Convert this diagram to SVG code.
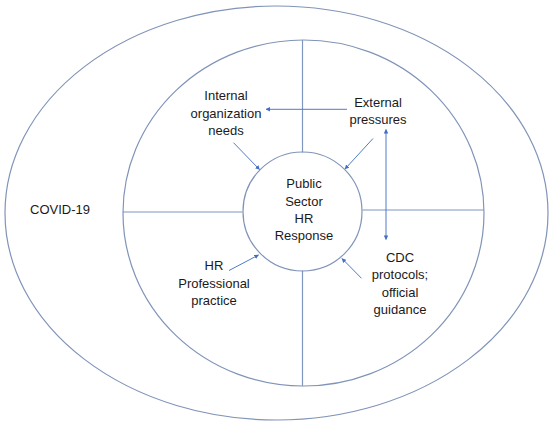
<svg xmlns="http://www.w3.org/2000/svg" width="550" height="431" viewBox="0 0 550 431">
<defs>
<style>
.ring{fill:none;stroke:#8094B8;stroke-width:1.2}
.div{stroke:#7F96C0;stroke-width:1.2}
.con{stroke:#4F7BC8;stroke-width:1;fill:none;marker-end:url(#ah)}
text{font-family:"Liberation Sans",Arial,sans-serif;font-size:13px;fill:#1a1a1a;text-anchor:middle}
</style>
<marker id="ah" viewBox="0 0 10 10" refX="9" refY="5" markerWidth="4.5" markerHeight="4.5" orient="auto-start-reverse" markerUnits="userSpaceOnUse">
<path d="M0,0L10,5L0,10z" fill="#3F6EC4"/>
</marker>
</defs>
<rect width="550" height="431" fill="#ffffff"/>
<g id="outer">
<ellipse class="ring" cx="276.5" cy="213" rx="271.5" ry="207"/>
<text x="60" y="214">COVID-19</text>
</g>
<g id="inner">
<ellipse class="ring" cx="303.5" cy="213" rx="180.5" ry="173"/>
<line class="div" x1="302.5" y1="40" x2="302.5" y2="152.5"/>
<line class="div" x1="302.5" y1="270.5" x2="302.5" y2="386"/>
<line class="div" x1="123" y1="212" x2="242.5" y2="212"/>
<line class="div" x1="362.5" y1="210" x2="484" y2="210"/>
</g>
<g id="center">
<circle class="ring" cx="302.5" cy="211.5" r="59.5"/>
<text x="304" y="188">Public</text>
<text x="304" y="205.5">Sector</text>
<text x="304" y="222.5">HR</text>
<text x="304" y="240">Response</text>
</g>
<g id="internal">
<text x="226" y="100">Internal</text>
<text x="226" y="117.5">organization</text>
<text x="226" y="134.5">needs</text>
</g>
<g id="external">
<text x="378" y="106.5">External</text>
<text x="378" y="124">pressures</text>
</g>
<g id="hr">
<text x="214" y="270">HR</text>
<text x="214" y="287.5">Professional</text>
<text x="214" y="304.5">practice</text>
</g>
<g id="cdc">
<text x="400" y="261.5">CDC</text>
<text x="400" y="279">protocols;</text>
<text x="400" y="296.5">official</text>
<text x="400" y="314">guidance</text>
</g>
<g id="connectors">
<line class="con" x1="347" y1="109.3" x2="266" y2="109.3"/>
<line class="con" x1="233.5" y1="142.7" x2="259.5" y2="169.5"/>
<line class="con" x1="373" y1="138.5" x2="345" y2="169"/>
<line class="con" x1="386" y1="129.5" x2="386" y2="239.5" style="marker-start:url(#ah)"/>
<line class="con" x1="229" y1="270.5" x2="258.5" y2="255"/>
<line class="con" x1="361.5" y1="278.3" x2="342" y2="258.5"/>
</g>
</svg>
